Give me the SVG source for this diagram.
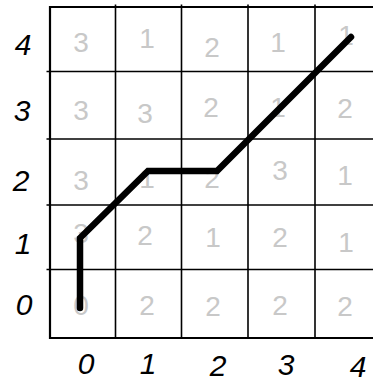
<svg xmlns="http://www.w3.org/2000/svg" width="373" height="383" viewBox="0 0 373 383">
<style>
.g{stroke:#000;stroke-width:1.6;fill:none}
.b{stroke:#000;stroke-width:2.2;fill:none}
.n{font-family:"Liberation Sans",Arial,sans-serif;font-size:28px;fill:#c8c8c8;text-anchor:middle;dominant-baseline:central}
.a{font-family:"Liberation Sans",Arial,sans-serif;font-size:30px;font-style:italic;fill:#000;text-anchor:middle;dominant-baseline:central}
.p{stroke:#000;stroke-width:6.5;fill:none;stroke-linecap:round;stroke-linejoin:miter}
</style>
<rect width="373" height="383" fill="#fff"/>
<g id="grid">
<line class="g" x1="115.5" y1="4.5" x2="115.5" y2="338"/>
<line class="g" x1="181.5" y1="4.5" x2="181.5" y2="338"/>
<line class="g" x1="248" y1="4.5" x2="248" y2="338"/>
<line class="g" x1="315" y1="4.5" x2="315" y2="338"/>
<line class="g" x1="46.5" y1="71.5" x2="373" y2="71.5"/>
<line class="g" x1="46.5" y1="139" x2="373" y2="139"/>
<line class="g" x1="46.5" y1="205" x2="373" y2="205"/>
<line class="g" x1="46.5" y1="269.5" x2="373" y2="269.5"/>
<polyline class="b" points="373,7 50,7 50,338 373,338"/>
</g>
<g id="cells">
<text class="n" x="81" y="42">3</text>
<text class="n" x="147" y="38">1</text>
<text class="n" x="212" y="47">2</text>
<text class="n" x="278" y="42">1</text>
<text class="n" x="346" y="35">1</text>
<text class="n" x="81" y="110">3</text>
<text class="n" x="145" y="113">3</text>
<text class="n" x="211" y="107">2</text>
<text class="n" x="278" y="107">1</text>
<text class="n" x="345" y="108">2</text>
<text class="n" x="81" y="180">3</text>
<text class="n" x="147" y="178">1</text>
<text class="n" x="212" y="178">2</text>
<text class="n" x="280" y="170">3</text>
<text class="n" x="345" y="175">1</text>
<text class="n" x="81" y="233">3</text>
<text class="n" x="145" y="235">2</text>
<text class="n" x="213" y="237">1</text>
<text class="n" x="280" y="237">2</text>
<text class="n" x="346" y="242">1</text>
<text class="n" x="81" y="305">0</text>
<text class="n" x="147" y="305">2</text>
<text class="n" x="213" y="306">2</text>
<text class="n" x="280" y="305">2</text>
<text class="n" x="345" y="306">2</text>
</g>
<g id="axes">
<text class="a" x="23" y="44">4</text>
<text class="a" x="22" y="110">3</text>
<text class="a" x="21" y="180">2</text>
<text class="a" x="23" y="243">1</text>
<text class="a" x="24" y="304">0</text>
<text class="a" x="86" y="363">0</text>
<text class="a" x="148" y="363">1</text>
<text class="a" x="218" y="365">2</text>
<text class="a" x="286" y="364">3</text>
<text class="a" x="358" y="366">4</text>
</g>
<g id="connectors">
<polyline class="p" points="80,308 80,238 148,171 217,171 351,37"/>
</g>
</svg>
